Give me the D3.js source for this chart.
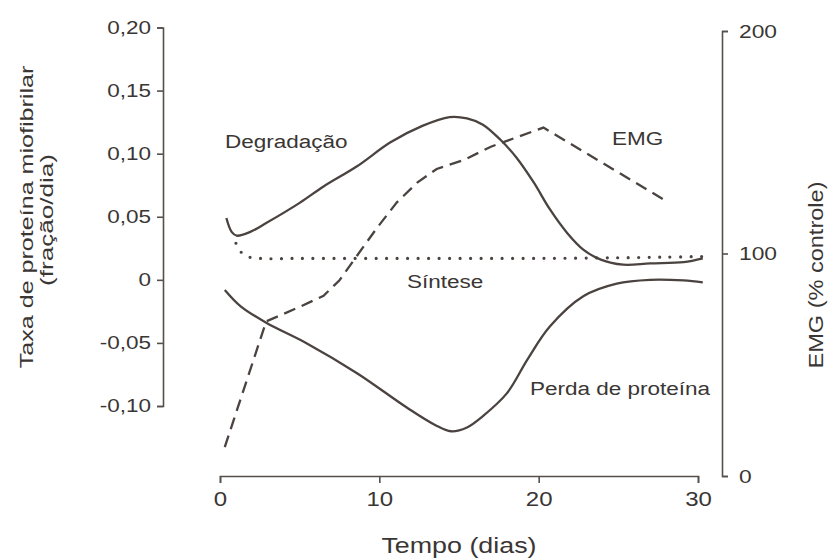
<!DOCTYPE html>
<html lang="pt">
<head>
    <meta charset="UTF-8">
    <title>Taxa de proteína miofibrilar e EMG</title>
    <style>
        body { margin: 0; background: #fff; }
        svg text { font-family: "Liberation Sans", Arial, Helvetica, sans-serif; fill: #3a3634; }
        .axis path, .axis line { stroke: #56504c; stroke-width: 1.6; }
        .curve { fill: none; stroke: #4a4340; stroke-width: 2.3; }
    </style>
</head>
<body>
    <div id="chart"></div>

    <script src="https://d3js.org/d3.v7.min.js"></script>
    <script>
        // values (dias / fração por dia / % controle)
        const degradDays   = [0.4, 0.73, 1.05, 1.9, 2.9, 5.0, 6.5, 8.6, 10.7, 12.7, 14.4, 15.5, 16.5, 17.6, 18.6, 19.7, 20.7, 21.8, 22.8, 23.9, 25.3, 27.0, 29.1, 30.3];
        const degradValues = [0.049, 0.038, 0.035, 0.038, 0.045, 0.061, 0.074, 0.090, 0.109, 0.122, 0.129, 0.128, 0.123, 0.111, 0.097, 0.077, 0.056, 0.037, 0.024, 0.016, 0.012, 0.013, 0.014, 0.017];

        const sinteseDays   = [1.0, 1.2, 1.6, 2.5, 5, 10, 15, 20, 25, 28, 30.3];
        const sinteseValues = [0.029, 0.024, 0.019, 0.017, 0.017, 0.017, 0.017, 0.017, 0.0175, 0.018, 0.0185];

        const perdaDays   = [0.3, 1.3, 2.9, 5.4, 8.6, 11.7, 13.5, 14.5, 15.5, 16.5, 18.0, 19.3, 20.7, 22.8, 24.9, 27.0, 29.1, 30.3];
        const perdaValues = [-0.008, -0.021, -0.034, -0.050, -0.074, -0.101, -0.115, -0.120, -0.117, -0.108, -0.090, -0.063, -0.037, -0.013, -0.003, 0.000, -0.0005, -0.002];

        const emgDays   = [0.3, 2.9, 5.0, 6.5, 7.5, 8.6, 9.8, 11.1, 12.4, 13.6, 15.3, 17.0, 20.3, 28.0];
        const emgValues = [13, 69.5, 76, 81, 88, 99, 111, 123, 132, 138, 142, 148, 156.6, 123.6];

        const xTicks = [0, 10, 20, 30];
        const leftTicks = [-0.10, -0.05, 0, 0.05, 0.10, 0.15, 0.20];
        const rightTicks = [0, 100, 200];

        const width = 831;
        const height = 559;

        const svg = d3.select("#chart")
            .append("svg")
            .attr("width", width)
            .attr("height", height);

        const x = d3.scaleLinear().domain([0, 30]).range([220, 698]);
        const yLeft = d3.scaleLinear().domain([-0.10, 0.20]).range([406, 27.5]);
        const yRight = d3.scaleLinear().domain([0, 200]).range([476, 31]);

        // the scanned lettering is wider than Arial, so stretch each label a bit
        function stretch(sel, k) {
            sel.each(function() {
                const n = this.getComputedTextLength();
                d3.select(this).attr("textLength", n * k).attr("lengthAdjust", "spacingAndGlyphs");
            });
        }

        const fmt = d => d === 0 ? "0" : d3.format(".2f")(d).replace(".", ",").replace("−", "-");

        // axes
        const leftAxis = svg.append("g")
            .attr("class", "axis")
            .attr("transform", "translate(163,0)")
            .call(d3.axisLeft(yLeft).tickValues(leftTicks).tickFormat(fmt).tickSize(6).tickPadding(6));

        const bottomAxis = svg.append("g")
            .attr("class", "axis")
            .attr("transform", "translate(0,476)")
            .call(d3.axisBottom(x).tickValues(xTicks).tickSize(7).tickPadding(9));

        const rightAxis = svg.append("g")
            .attr("class", "axis")
            .attr("transform", "translate(722,0)")
            .call(d3.axisRight(yRight).tickValues(rightTicks).tickSize(6).tickPadding(11));

        svg.selectAll(".axis").attr("font-family", null).attr("font-size", null);
        svg.selectAll(".axis text").attr("fill", null);
        leftAxis.selectAll(".tick text").style("font-size", "18px").call(stretch, 1.25);
        bottomAxis.selectAll(".tick text").style("font-size", "20px").call(stretch, 1.2);
        rightAxis.selectAll(".tick text").style("font-size", "19px").call(stretch, 1.2);

        // curves
        const leftLine = d3.line()
            .x(d => x(d[0]))
            .y(d => yLeft(d[1]))
            .curve(d3.curveCatmullRom.alpha(0.5));

        const emgLine = d3.line()
            .x(d => x(d[0]))
            .y(d => yRight(d[1]));

        svg.append("path")
            .attr("class", "curve")
            .attr("d", leftLine(d3.zip(degradDays, degradValues)));

        svg.append("path")
            .attr("class", "curve")
            .attr("d", leftLine(d3.zip(perdaDays, perdaValues)));

        svg.append("path")
            .attr("class", "curve")
            .attr("stroke-linecap", "round")
            .attr("stroke-dasharray", "0,10.5")
            .style("stroke-width", "3.2px")
            .attr("d", leftLine(d3.zip(sinteseDays, sinteseValues)));

        svg.append("path")
            .attr("class", "curve")
            .attr("stroke-dasharray", "12,7")
            .attr("d", emgLine(d3.zip(emgDays, emgValues)));

        // curve labels
        const labels = [
            { text: "Degradação", x: 225, y: 148 },
            { text: "Síntese", x: 407, y: 288 },
            { text: "EMG", x: 612, y: 145 },
            { text: "Perda de proteína", x: 530, y: 395 }
        ];
        svg.selectAll(".label")
            .data(labels)
            .enter()
            .append("text")
            .attr("class", "label")
            .attr("x", d => d.x)
            .attr("y", d => d.y)
            .style("font-size", "18px")
            .text(d => d.text)
            .call(stretch, 1.25);

        // axis titles
        svg.append("text")
            .attr("transform", "translate(33,217) rotate(-90)")
            .attr("text-anchor", "middle")
            .style("font-size", "19px")
            .text("Taxa de proteína miofibrilar")
            .call(stretch, 1.32);

        svg.append("text")
            .attr("transform", "translate(53,220) rotate(-90)")
            .attr("text-anchor", "middle")
            .style("font-size", "18px")
            .text("(fração/dia)")
            .call(stretch, 1.45);

        svg.append("text")
            .attr("x", 459)
            .attr("y", 553)
            .attr("text-anchor", "middle")
            .style("font-size", "22px")
            .text("Tempo (dias)")
            .call(stretch, 1.22);

        svg.append("text")
            .attr("transform", "translate(823,275) rotate(-90)")
            .attr("text-anchor", "middle")
            .style("font-size", "21px")
            .text("EMG (% controle)")
            .call(stretch, 1.12);
    </script>
</body>
</html>
